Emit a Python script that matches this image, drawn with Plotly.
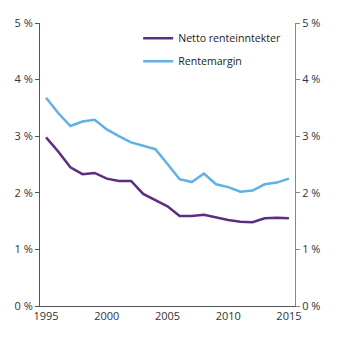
import plotly.graph_objects as go

years = list(range(1995, 2016))
netto = [2.98, 2.73, 2.45, 2.33, 2.35, 2.25, 2.21, 2.21, 1.98, 1.87, 1.76,
         1.59, 1.59, 1.61, 1.56, 1.52, 1.49, 1.48, 1.55, 1.56, 1.55]
margin = [3.68, 3.41, 3.18, 3.26, 3.29, 3.12, 3.00, 2.89, 2.83, 2.77, 2.51,
          2.24, 2.19, 2.34, 2.15, 2.10, 2.02, 2.04, 2.15, 2.18, 2.25]
y_ticks = [0, 1, 2, 3, 4, 5]
y_labels = ["0 %", "1 %", "2 %", "3 %", "4 %", "5 %"]
x_ticks = [1995, 2000, 2005, 2010, 2015]

fig = go.Figure()
fig.add_trace(go.Scatter(x=years, y=netto, mode="lines", name="Netto renteinntekter",
                         line=dict(color="#5c2d83", width=2.5), legendgroup="a"))
fig.add_trace(go.Scatter(x=years, y=margin, mode="lines", name="Rentemargin",
                         line=dict(color="#62b0e4", width=2.5), legendgroup="b"))

axis_font = dict(family="Open Sans", size=11, color="#333333")
fig.update_layout(
    width=345, height=345,
    margin=dict(l=40, r=50, t=23, b=39),
    paper_bgcolor="white", plot_bgcolor="white",
    font=axis_font,
    showlegend=True,
    legend=dict(x=0.385, y=0.997, xanchor="left", yanchor="top",
                bgcolor="rgba(0,0,0,0)", tracegroupgap=4,
                font=dict(family="Open Sans", size=10.6, color="#222222")),
    xaxis=dict(range=[1994.5, 2015.5], tickvals=x_ticks, showgrid=False,
               zeroline=False, showline=True, linecolor="#555555", linewidth=1,
               ticks="", tickfont=axis_font),
    yaxis=dict(range=[0, 5], tickmode="array", tickvals=y_ticks, ticktext=y_labels,
               showgrid=False, zeroline=False, showline=True, linecolor="#555555",
               linewidth=1, ticks="outside", ticklen=4, tickcolor="#555555",
               tickfont=axis_font),
    yaxis2=dict(range=[0, 5], tickmode="array", tickvals=y_ticks, ticktext=y_labels,
                overlaying="y", side="right", showgrid=False, zeroline=False,
                showline=True, linecolor="#888888", linewidth=1, ticks="outside",
                ticklen=4, tickcolor="#888888", tickfont=axis_font),
)
# invisible trace so the right-hand axis is drawn
fig.add_trace(go.Scatter(x=[years[0]], y=[0], yaxis="y2", mode="markers",
                         marker=dict(opacity=0), showlegend=False, hoverinfo="skip"))

fig.write_html("out.html")
